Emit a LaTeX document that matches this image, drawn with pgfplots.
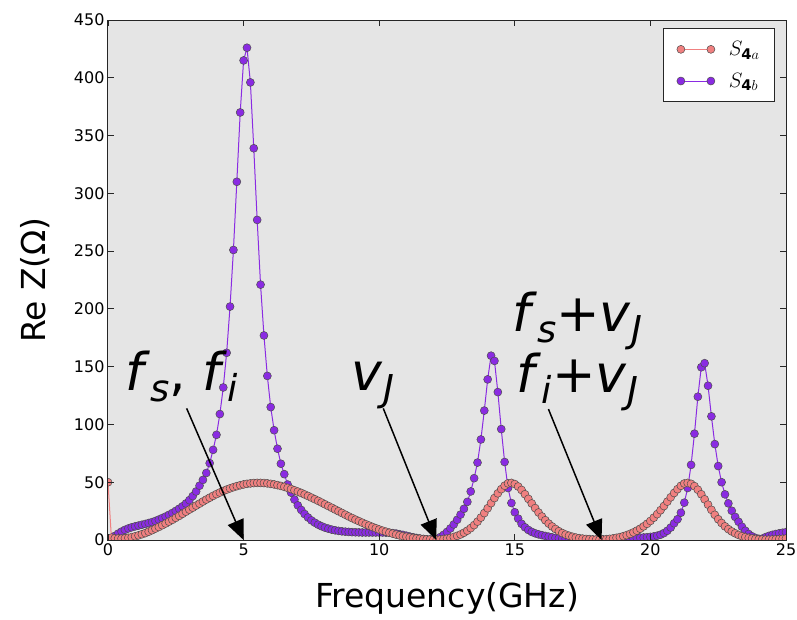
\documentclass[border=0pt]{standalone}
\usepackage{fontspec}
\setmainfont{DejaVu Sans}
\usepackage{pgfplots}
\pgfplotsset{compat=1.18}
\usepackage{pgfplotstable}
\usetikzlibrary{arrows.meta}
\definecolor{bgc}{RGB}{229,229,229}
\definecolor{redc}{RGB}{240,128,128}
\definecolor{purc}{RGB}{138,43,226}
\newcommand\sub[1]{\raisebox{-0.22em}{\fontsize{37}{40}\selectfont #1}}
\pgfplotstableread{
x a b
0 50 0.3
0.125 2.0 1.5
0.25 1.5 3.5
0.375 1.3 5.5
0.5 1.3 7.3
0.625 1.5 8.8
0.75 1.9 10.0
0.875 2.5 11.0
1.0 3.2 11.8
1.125 4.0 12.5
1.25 5.0 13.2
1.375 6.0 13.9
1.5 7.2 14.7
1.625 8.5 15.5
1.75 9.9 16.5
1.875 11.3 17.7
2.0 12.8 19.0
2.125 14.3 20.3
2.25 15.9 21.8
2.375 17.5 23.4
2.5 19.2 25.2
2.625 20.9 27.1
2.75 22.7 29.2
2.875 24.5 31.6
3.0 26.3 34.5
3.125 28.0 38.0
3.25 29.8 42.0
3.375 31.5 47.0
3.5 33.3 52.0
3.625 35.0 58.0
3.75 36.6 66.5
3.875 38.2 78
4.0 39.7 91
4.125 41.1 109
4.25 42.4 132
4.375 43.6 162
4.5 44.7 202
4.625 45.7 251
4.75 46.6 310
4.875 47.4 370
5.0 48.1 415
5.125 48.6 426
5.25 49.0 396
5.375 49.3 339
5.5 49.4 277
5.625 49.4 221
5.75 49.3 177
5.875 49.0 142
6.0 48.6 115
6.125 48.1 95
6.25 47.5 79
6.375 46.8 66
6.5 46.0 57
6.625 45.1 48
6.75 44.1 41
6.875 43.0 35
7.0 41.9 30
7.125 40.7 26
7.25 39.4 22.5
7.375 38.1 19.5
7.5 36.7 17.0
7.625 35.3 15.0
7.75 33.9 13.3
7.875 32.4 11.9
8.0 30.9 10.7
8.125 29.4 9.8
8.25 27.9 9.0
8.375 26.4 8.4
8.5 24.9 7.9
8.625 23.4 7.5
8.75 21.9 7.2
8.875 20.4 7.0
9.0 19.0 6.8
9.125 17.6 6.7
9.25 16.3 6.6
9.375 15.0 6.5
9.5 13.7 6.5
9.625 12.5 6.5
9.75 11.3 6.5
9.875 10.2 6.5
10.0 9.1 6.5
10.125 8.1 6.5
10.25 7.2 6.4
10.375 6.3 6.3
10.5 5.5 6.0
10.625 4.7 5.6
10.75 4.0 5.0
10.875 3.4 4.4
11.0 2.8 3.7
11.125 2.3 3.0
11.25 1.8 2.4
11.375 1.4 1.8
11.5 1.1 1.3
11.625 0.8 0.9
11.75 0.6 0.6
11.875 0.5 0.4
12.0 0.4 0.4
12.125 0.4 0.8
12.25 0.5 2.5
12.375 0.8 4.5
12.5 1.2 7.0
12.625 1.8 10.0
12.75 2.6 13.5
12.875 3.6 17.5
13.0 4.8 22.0
13.125 6.3 27.0
13.25 8.1 33.0
13.375 10.3 42.0
13.5 12.9 53.5
13.625 15.9 67.0
13.75 19.4 87
13.875 23.3 112
14.0 27.5 139
14.125 31.9 159.5
14.25 36.3 155
14.375 40.4 128
14.5 44.0 96
14.625 47.0 67.5
14.75 49.0 45
14.875 49.4 32
15.0 48.4 24
15.125 46.3 18.5
15.25 43.3 14
15.375 39.6 11
15.5 35.6 8.7
15.625 31.6 7.0
15.75 27.6 5.8
15.875 23.8 4.9
16.0 20.3 4.2
16.125 17.1 3.5
16.25 14.2 2.9
16.375 11.7 2.3
16.5 9.5 1.8
16.625 7.6 1.5
16.75 6.0 1.2
16.875 4.7 1.0
17.0 3.7 0.8
17.125 2.8 0.6
17.25 2.1 0.5
17.375 1.6 0.4
17.5 1.2 0.3
17.625 0.9 0.3
17.75 0.7 0.3
17.875 0.5 0.3
18.0 0.4 0.3
18.125 0.4 0.3
18.25 0.5 0.3
18.375 0.7 0.3
18.5 1.0 0.3
18.625 1.4 0.4
18.75 1.9 0.5
18.875 2.5 0.6
19.0 3.3 0.8
19.125 4.2 1.0
19.25 5.3 1.2
19.375 6.6 1.4
19.5 8.1 1.7
19.625 9.8 2.0
19.75 11.8 2.2
19.875 14.0 2.4
20.0 16.5 2.7
20.125 19.3 3.1
20.25 22.4 3.7
20.375 25.8 4.6
20.5 29.4 6.0
20.625 33.2 8.0
20.75 37.0 10.8
20.875 40.7 14.5
21.0 44.0 18.0
21.125 46.9 23.6
21.25 48.9 32.3
21.375 49.4 45
21.5 48.6 65
21.625 46.6 92
21.75 43.5 124
21.875 39.6 149.5
22.0 35.2 153
22.125 30.6 133.5
22.25 26.1 107
22.375 21.8 83
22.5 18.0 64
22.625 14.7 50
22.75 11.8 39.5
22.875 9.4 31.7
23.0 7.4 25.3
23.125 5.8 20
23.25 4.4 15.8
23.375 3.3 11.5
23.5 2.5 8.0
23.625 1.8 5.2
23.75 1.3 3.2
23.875 0.9 1.8
24.0 0.6 1.0
24.125 0.5 1.2
24.25 0.4 2.5
24.375 0.4 3.6
24.5 0.5 4.5
24.625 0.6 5.2
24.75 0.8 5.8
24.875 1.0 6.3
25.0 1.3 6.8
}\datatab
\pgfplotsset{
  redstyle/.style={color=redc, line width=1pt, mark=*, mark size=4pt,
    mark options={draw=black!70, fill=redc, line width=0.5pt}},
  purstyle/.style={color=purc, line width=1pt, mark=*, mark size=4pt,
    mark options={draw=black!70, fill=purc, line width=0.5pt}},
}
\begin{document}
\begin{tikzpicture}
\useasboundingbox (-108pt,-79pt) rectangle (689pt,540pt);
\begin{axis}[
  at={(0pt,0pt)}, anchor=south west,
  scale only axis, width=678pt, height=520pt,
  xmin=0, xmax=25, ymin=0, ymax=450,
  xtick={0,5,...,25}, ytick={0,50,...,450},
  tick pos=both, tick align=inside, major tick length=6pt,
  axis background/.style={fill=bgc},
  axis line style={line width=1pt, black!85},
  every tick/.style={black!85, line width=0.8pt},
  axis on top,
  clip marker paths=true,
  /pgf/number format/assume math mode=true,
  tick label style={font=\fontsize{16}{19}\selectfont},
  xlabel={Frequency(GHz)}, ylabel={Re Z(Ω)},
  label style={font=\fontsize{33}{38}\selectfont},
  xlabel style={at={(axis description cs:0.5,0)}, anchor=base, yshift=-67pt},
  ylabel style={at={(axis description cs:-0.0929,0.5)}, anchor=base},
  legend cell align=left,
  legend style={at={(rel axis cs:0.9838,0.9846)}, anchor=north east,
    draw=black!85, line width=1pt, fill=white,
    font=\fontsize{21}{24}\selectfont, row sep=12pt, column sep=12pt,
    inner xsep=13pt, inner ysep=11pt},
  legend image code/.code={\draw[#1,mark repeat=1,mark phase=1] plot coordinates {(0pt,0pt) (30pt,0pt)};},
]
\addlegendimage{redstyle}
\addlegendentry{$S_{\mathbf{4}a}$}
\addlegendimage{purstyle}
\addlegendentry{$S_{\mathbf{4}b}$}
\addplot[purstyle, forget plot] table[x=x, y=b] {\datatab};
\addplot[redstyle, forget plot] table[x=x, y=a] {\datatab};

\draw[line width=1.5pt, -{Triangle[length=20pt,width=17pt]}] (axis cs:2.9,113.9) -- (axis cs:5,0);
\draw[line width=1.5pt, -{Triangle[length=20pt,width=17pt]}] (axis cs:10.15,113.9) -- (axis cs:12.1,0);
\draw[line width=1.5pt, -{Triangle[length=20pt,width=17pt]}] (axis cs:16.24,113.3) -- (axis cs:18.2,0);

\node[anchor=base west, inner sep=0pt, font=\fontsize{52}{60}\selectfont] at (axis cs:0.63,129.8) {\textit{f}\sub{\textit{s}}, \textit{f}\sub{\textit{i}}};
\node[anchor=base west, inner sep=0pt, font=\fontsize{52}{60}\selectfont] at (axis cs:8.98,129.8) {\textit{v}\sub{\textit{J}}};
\node[anchor=base west, inner sep=0pt, font=\fontsize{52}{60}\selectfont] at (axis cs:14.9,180.8) {\textit{f}\sub{\textit{s}}+\textit{v}\sub{\textit{J}}};
\node[anchor=base west, inner sep=0pt, font=\fontsize{52}{60}\selectfont] at (axis cs:15.07,128) {\textit{f}\sub{\textit{i}}+\textit{v}\sub{\textit{J}}};
\end{axis}
\end{tikzpicture}
\end{document}
